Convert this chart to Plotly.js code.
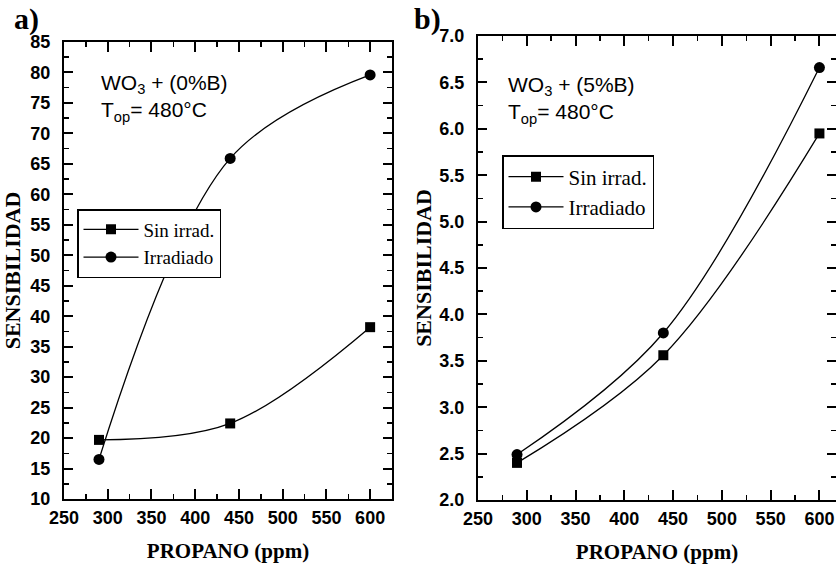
<!DOCTYPE html>
<html>
<head>
<meta charset="utf-8">
<script src="https://cdn.plot.ly/plotly-3.0.1.min.js"></script>
<style>html,body{margin:0;padding:0;background:#fff;overflow:hidden}#chart{width:836px;height:567px}</style>
</head>
<body>
<div id="chart"></div>
<script>
// Data
const propano = [290, 440, 600];
const sinIrradA = [19.7, 22.4, 38.2];
const irradA = [16.5, 65.9, 79.6];
const sinIrradB = [2.40, 3.56, 5.95];
const irradB = [2.49, 3.80, 6.66];
const seriesNames = ['Sin irrad.', 'Irradiado'];
const panelLabels = ['a)', 'b)'];
const notes = ['WO<sub>3</sub> + (0%B)<br>T<sub>op</sub>= 480°C', 'WO<sub>3</sub> + (5%B)<br>T<sub>op</sub>= 480°C'];

const W = 836, H = 567;
const px = x => x / W;
const py = y => (H - y) / H;

const lineStyle = {color: '#000', width: 1.3, shape: 'spline', smoothing: 1};
function tr(x, y, name, sym, xa, ya, leg) {
  return {x: x, y: y, name: name, mode: 'lines+markers', xaxis: xa, yaxis: ya, legend: leg,
    line: lineStyle, marker: {symbol: sym, size: sym === 'square' ? 10 : 11, color: '#000'}};
}
const data = [
  tr(propano, sinIrradA, seriesNames[0], 'square', 'x', 'y', 'legend'),
  tr(propano, irradA, seriesNames[1], 'circle', 'x', 'y', 'legend'),
  tr(propano, sinIrradB, seriesNames[0], 'square', 'x2', 'y2', 'legend2'),
  tr(propano, irradB, seriesNames[1], 'circle', 'x2', 'y2', 'legend2')
];

const serif = 'Liberation Serif, Times New Roman';
const tickFont = {family: 'Liberation Sans, Arial', size: 18, color: '#000', weight: 'bold'};
const titleFont = {family: serif, size: 21, color: '#000', weight: 'bold'};
function xax(domain, range, anchor) {
  return {domain: domain, range: range, anchor: anchor, dtick: 50, tick0: 250,
    ticks: 'inside', ticklen: 10, tickwidth: 2, tickcolor: '#000',
    minor: {dtick: 25, ticks: 'inside', ticklen: 5, tickwidth: 1.5, tickcolor: '#000'},
    showline: true, linewidth: 2, linecolor: '#000', mirror: 'ticks', showgrid: false, zeroline: false,
    tickfont: tickFont, ticklabelstandoff: 1,
    title: {text: 'PROPANO (ppm)', font: titleFont, standoff: 17}};
}
function yax(domain, range, dtick, mdtick, anchor, tickformat, standoff) {
  return {domain: domain, range: range, anchor: anchor, dtick: dtick, tick0: 0, tickformat: tickformat,
    ticks: 'inside', ticklen: 9, tickwidth: 2, tickcolor: '#000',
    minor: {dtick: mdtick, ticks: 'inside', ticklen: 5, tickwidth: 1.5, tickcolor: '#000'},
    showline: true, linewidth: 2, linecolor: '#000', mirror: 'ticks', showgrid: false, zeroline: false,
    tickfont: tickFont, ticklabelstandoff: 8,
    title: {text: 'SENSIBILIDAD', font: {family: serif, size: 22, color: '#000', weight: 'bold'}, standoff: standoff}};
}
const layout = {
  width: W, height: H,
  margin: {l: 0, r: 0, t: 0, b: 0},
  paper_bgcolor: '#fff', plot_bgcolor: '#fff',
  showlegend: true,
  xaxis: xax([px(64), px(392)], [250, 625], 'y'),
  yaxis: yax([py(499), py(42)], [10, 85], 5, 2.5, 'x', 'd', 10),
  xaxis2: xax([px(478), 1], [250, 617], 'y2'),
  yaxis2: yax([py(500), py(36)], [2, 7], 0.5, 0.25, 'x2', '.1f', 2),
  legend: {x: px(77), y: py(209), xanchor: 'left', yanchor: 'top', bgcolor: '#fff',
    bordercolor: '#000', borderwidth: 1.5, font: {family: serif, size: 19, color: '#000'}, itemwidth: 55, tracegroupgap: 0},
  legend2: {x: px(502), y: py(155), xanchor: 'left', yanchor: 'top', bgcolor: '#fff',
    bordercolor: '#000', borderwidth: 1.5, font: {family: serif, size: 21, color: '#000'}, itemwidth: 55, tracegroupgap: 0},
  annotations: [
    {text: panelLabels[0], xref: 'paper', yref: 'paper', x: px(26), y: py(19), xanchor: 'center', yanchor: 'middle', showarrow: false,
      font: {family: serif, size: 30, color: '#000', weight: 'bold'}},
    {text: panelLabels[1], xref: 'paper', yref: 'paper', x: px(427), y: py(19), xanchor: 'center', yanchor: 'middle', showarrow: false,
      font: {family: serif, size: 30, color: '#000', weight: 'bold'}},
    {text: notes[0], xref: 'paper', yref: 'paper', x: px(99), y: py(98), xanchor: 'left', yanchor: 'middle', align: 'left', showarrow: false,
      font: {family: 'Liberation Sans, Arial', size: 21, color: '#000'}},
    {text: notes[1], xref: 'paper', yref: 'paper', x: px(506), y: py(100), xanchor: 'left', yanchor: 'middle', align: 'left', showarrow: false,
      font: {family: 'Liberation Sans, Arial', size: 21, color: '#000'}}
  ]
};
Plotly.newPlot('chart', data, layout, {displayModeBar: false, staticPlot: true});
</script>
</body>
</html>
